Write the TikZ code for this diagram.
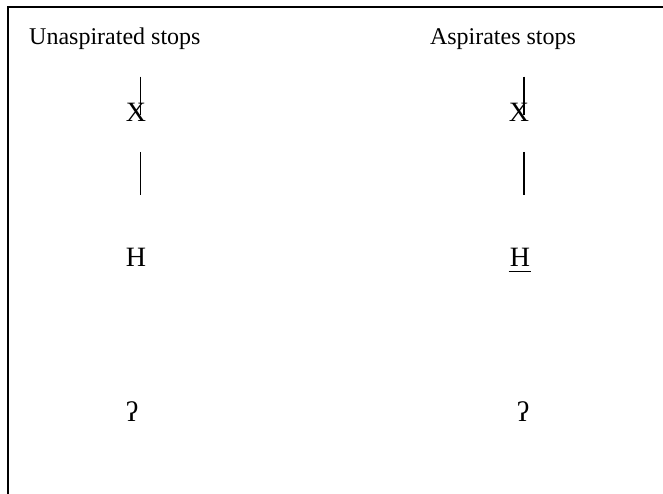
\documentclass[tikz,border=0pt]{standalone}
\usepackage{fontspec}
\setmainfont{Liberation Serif}
\begin{document}
\begin{tikzpicture}[x=1pt,y=-1pt,
  head/.style={inner sep=0pt,anchor=base,font=\fontsize{24}{27}\selectfont},
  seg/.style={inner sep=0pt,font=\fontsize{28}{30}\selectfont},
  tie/.style={line width=1.4pt}]
\useasboundingbox (0,0) rectangle (663,494);
% frame
\draw[line width=1.5pt] (663,7) -- (8,7) -- (8,494);
% column headings
\node[head,anchor=base west] (hl) at (29,45) {Unaspirated stops};
\node[head] (hr) at (503,45) {Aspirates stops};
% segments
\node[seg] (xl) at (136,112) {X};
\node[seg] (xr) at (519,112) {X};
\node[seg] (hhl) at (136,257) {H};
\node[seg] (hhr) at (520,257) {H};
\node[seg] (ql) at (132,412) {ʔ};
\node[seg] (qr) at (523,412) {ʔ};
% underline of the aspirated H
\draw[line width=1.5pt] ([xshift=-1pt,yshift=-5pt]hhr.south west) -- ([xshift=1pt,yshift=-5pt]hhr.south east);
% association lines
\coordinate (lt) at (140.7,76.7);
\coordinate (lb) at (140.7,115);
\coordinate (ls) at (140.7,152);
\coordinate (le) at (140.7,195);
\coordinate (rt) at (524,76.7);
\coordinate (rb) at (524,115);
\coordinate (rs) at (524,152);
\coordinate (re) at (524,195);
\draw[tie] (lt) -- (lb);
\draw[tie] (ls) -- (le);
\draw[tie] (rt) -- (rb);
\draw[tie] (rs) -- (re);
\end{tikzpicture}
\end{document}
